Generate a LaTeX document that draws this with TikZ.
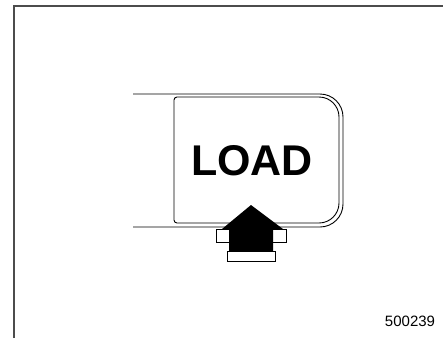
\documentclass[tikz,border=0pt]{standalone}
\usepackage{fontspec}
\setmainfont{Liberation Sans}
\usepackage{tikz}

\begin{document}
\begin{tikzpicture}[x=1pt,y=-1pt,
  frameline/.style={line width=1.6pt,draw=black!70},
  housing/.style={line width=0.9pt,draw=black},
  whitebox/.style={draw=black,line width=0.9pt,fill=white}]
\useasboundingbox (0,0) rectangle (443,338);
% frame
\draw[frameline] (14,338) -- (14,6) -- (443,6);
% housing round the button
\draw[housing,rounded corners=23] (133,94) -- (343,94) -- (343,227) -- (133,227);
\draw[housing] (200,97) [rounded corners=3] -- (174,97) -- (174,223) -- (200,223)
  [rounded corners=20] -- (339,223) -- (339,97) -- cycle;
\node[anchor=base,inner sep=0pt,font=\fontsize{43}{43}\selectfont\bfseries] (load) at (252,175) {LOAD};
% press arrow
\draw[whitebox] (216,229) rectangle (286,242);
\fill[black] (251,205) -- (283,229) -- (273,229) -- (273,252) -- (229,252) -- (229,229) -- (222,229) -- cycle;
\draw[whitebox] (227,251) rectangle (275,261);
\node[anchor=base,inner sep=0pt,font=\fontsize{15}{15}\selectfont] (num) at (410,326) {500239};
\end{tikzpicture}
\end{document}
